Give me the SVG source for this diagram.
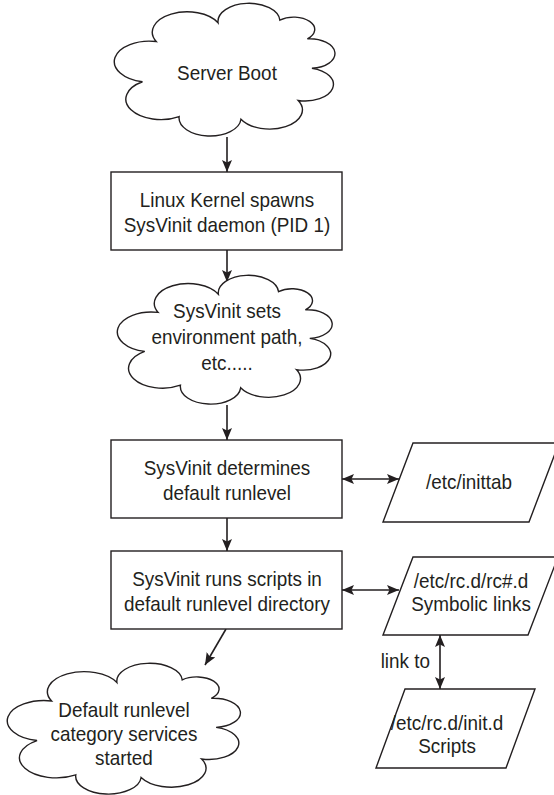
<svg xmlns="http://www.w3.org/2000/svg" width="554" height="795" viewBox="0 0 554 795">
<style>
.shape{fill:#fff;stroke:#231f20;stroke-width:1.4}
.cloud{fill:#fff;stroke:#231f20;stroke-width:1.4;vector-effect:non-scaling-stroke}
.t{font-family:"Liberation Sans",Arial,sans-serif;font-size:21px;fill:#231f20;text-anchor:middle}
.c{stroke:#231f20;stroke-width:1.6;fill:none}
</style>
<defs>
<marker id="ah" viewBox="0 0 12 10" refX="12" refY="5" markerWidth="12" markerHeight="10" markerUnits="userSpaceOnUse" orient="auto-start-reverse">
<path d="M0,0 L12,5 L0,10 L2.5,5 z" fill="#231f20"/>
</marker>
</defs>
<g id="connectors">
<line class="c" x1="227" y1="137" x2="227" y2="172" marker-end="url(#ah)"/>
<line class="c" x1="227" y1="250" x2="227" y2="282" marker-end="url(#ah)"/>
<line class="c" x1="227" y1="405" x2="227" y2="440" marker-end="url(#ah)"/>
<line class="c" x1="227" y1="518" x2="227" y2="551" marker-end="url(#ah)"/>
<line class="c" x1="226" y1="629" x2="205" y2="665" marker-end="url(#ah)"/>
<line class="c" x1="342" y1="479" x2="399" y2="479" marker-start="url(#ah)" marker-end="url(#ah)"/>
<line class="c" x1="342" y1="590" x2="399" y2="590" marker-start="url(#ah)" marker-end="url(#ah)"/>
<line class="c" x1="440" y1="635" x2="440" y2="689" marker-start="url(#ah)" marker-end="url(#ah)"/>
</g>
<g id="server-boot">
<path class="cloud" transform="translate(115,4) scale(2.29,1.34)" d="M12,58 A1,1 0 0 1 18,28 A1,1 0 0 1 45,14 A1,1 0 0 1 72,12 A1,1 0 0 1 84,26 A1,1 0 0 1 86,48 A1,1 0 0 1 80,72 A1,1 0 0 1 55,86 A1,1 0 0 1 28,84 A1,1 0 0 1 12,58 Z"/>
<text class="t" transform="translate(227,80) scale(0.9,1)">Server Boot</text>
</g>
<g id="kernel">
<rect class="shape" x="111" y="172" width="231" height="78"/>
<text class="t" transform="translate(227,207) scale(0.9,1)">Linux Kernel spawns</text>
<text class="t" transform="translate(227,232) scale(0.9,1)">SysVinit daemon (PID 1)</text>
</g>
<g id="env">
<path class="cloud" transform="translate(118,276) scale(2.23,1.3)" d="M12,58 A1,1 0 0 1 18,28 A1,1 0 0 1 45,14 A1,1 0 0 1 72,12 A1,1 0 0 1 84,26 A1,1 0 0 1 86,48 A1,1 0 0 1 80,72 A1,1 0 0 1 55,86 A1,1 0 0 1 28,84 A1,1 0 0 1 12,58 Z"/>
<text class="t" transform="translate(227,318) scale(0.9,1)">SysVinit sets</text>
<text class="t" transform="translate(227,344) scale(0.9,1)">environment path,</text>
<text class="t" transform="translate(227,370) scale(0.9,1)">etc.....</text>
</g>
<g id="determine">
<rect class="shape" x="111" y="440" width="231" height="78"/>
<text class="t" transform="translate(227,475) scale(0.9,1)">SysVinit determines</text>
<text class="t" transform="translate(227,500) scale(0.9,1)">default runlevel</text>
</g>
<g id="inittab">
<polygon class="shape" points="413,443 559,443 529,522 383,522"/>
<text class="t" transform="translate(469,489) scale(0.9,1)">/etc/inittab</text>
</g>
<g id="runs">
<rect class="shape" x="111" y="551" width="231" height="78"/>
<text class="t" transform="translate(227,586) scale(0.9,1)">SysVinit runs scripts in</text>
<text class="t" transform="translate(227,611) scale(0.9,1)">default runlevel directory</text>
</g>
<g id="rcd">
<polygon class="shape" points="413,557 558,557 528,635 383,635"/>
<text class="t" transform="translate(471,588) scale(0.9,1)">/etc/rc.d/rc#.d</text>
<text class="t" transform="translate(471,611) scale(0.9,1)">Symbolic links</text>
</g>
<g id="initd">
<polygon class="shape" points="405,689 535,689 506,768 376,768"/>
<text class="t" transform="translate(447,730) scale(0.9,1)">/etc/rc.d/init.d</text>
<text class="t" transform="translate(447,753) scale(0.9,1)">Scripts</text>
</g>
<g id="link-label">
<text class="t" transform="translate(430,668) scale(0.9,1)" style="text-anchor:end">link to</text>
</g>
<g id="started">
<path class="cloud" transform="translate(8,664) scale(2.42,1.32)" d="M12,58 A1,1 0 0 1 18,28 A1,1 0 0 1 45,14 A1,1 0 0 1 72,12 A1,1 0 0 1 84,26 A1,1 0 0 1 86,48 A1,1 0 0 1 80,72 A1,1 0 0 1 55,86 A1,1 0 0 1 28,84 A1,1 0 0 1 12,58 Z"/>
<text class="t" transform="translate(124,717) scale(0.9,1)">Default runlevel</text>
<text class="t" transform="translate(124,741) scale(0.9,1)">category services</text>
<text class="t" transform="translate(124,765) scale(0.9,1)">started</text>
</g>
</svg>
